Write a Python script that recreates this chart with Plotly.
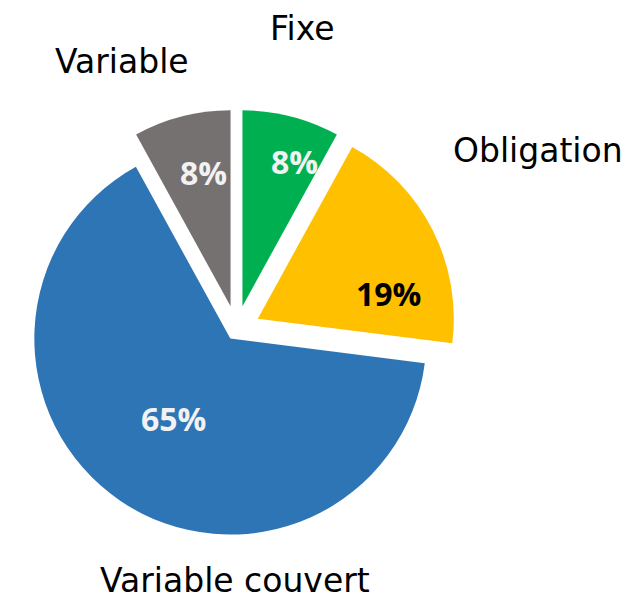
import plotly.graph_objects as go

# Répartition de la dette par type de taux
categories = ["Fixe", "Obligation", "Variable couvert", "Variable"]
shares = [8, 19, 65, 8]
colors = ["#00B050", "#FFC000", "#2E75B6", "#767171"]
pulls = [0.122, 0.122, 0.056, 0.122]
pct_colors = ["#F2F2F2", "#000000", "#F2F2F2", "#F2F2F2"]

W, H = 628, 601
cx, cy = 236.5, 329.5      # pie centre in pixels
radius = 196
half = radius * (1 + max(pulls))

fig = go.Figure(go.Pie(
    labels=categories,
    values=shares,
    sort=False,
    direction="clockwise",
    rotation=0,
    pull=pulls,
    marker=dict(colors=colors, line=dict(width=0)),
    textinfo="none",
    domain=dict(x=[(cx - half) / W, (cx + half) / W],
                y=[1 - (cy + half) / H, 1 - (cy - half) / H]),
    showlegend=False,
    hoverinfo="label+percent",
))

# Category names around the pie (pixel anchor + vertical anchor),
# percentages inside the slices
label_pos = [(302, 29, "middle"), (538, 150, "middle"),
             (235, 601, "bottom"), (122, 61, "middle")]
pct_pos = [(294, 161), (388, 293), (173, 418), (203, 173)]

total = sum(shares)
for name, v, (lx, ly, anchor), (px, py), tc in zip(categories, shares, label_pos,
                                                   pct_pos, pct_colors):
    fig.add_annotation(
        x=lx / W, y=1 - ly / H, xref="paper", yref="paper",
        text=name, showarrow=False, xanchor="center", yanchor=anchor,
        borderpad=0,
        font=dict(family="DejaVu Sans", size=33, color="#000000"),
    )
    fig.add_annotation(
        x=px / W, y=1 - py / H, xref="paper", yref="paper",
        text=f"{round(100 * v / total)}%", showarrow=False,
        xanchor="center", yanchor="middle",
        font=dict(family="Open Sans", size=32, color=tc, weight="bold"),
    )

fig.update_layout(
    width=W, height=H,
    margin=dict(l=0, r=0, t=0, b=0),
    paper_bgcolor="white",
    plot_bgcolor="white",
)

fig.write_html("out.html")
